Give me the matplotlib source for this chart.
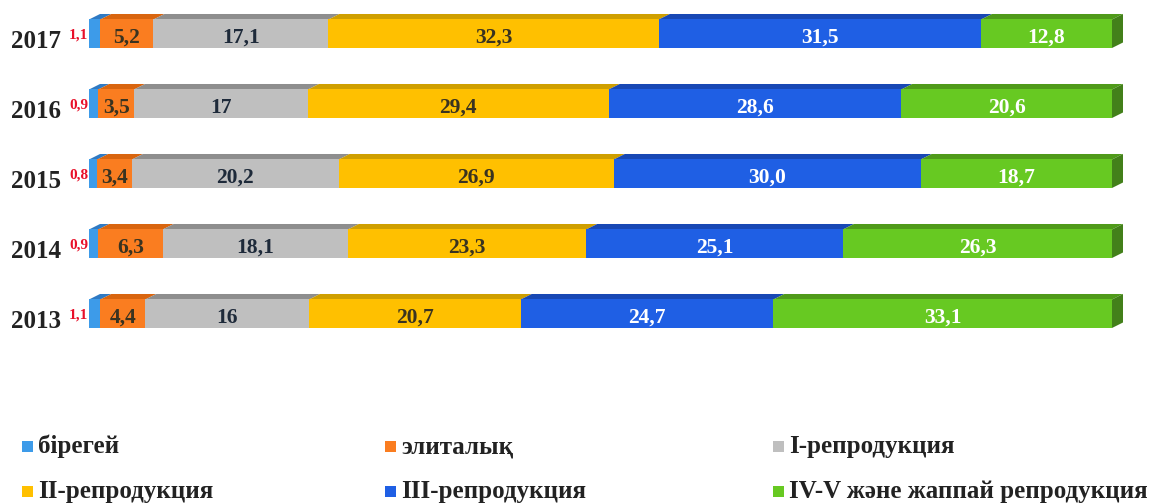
import matplotlib
matplotlib.use('Agg')
import matplotlib.pyplot as plt
from matplotlib.patches import Polygon, Rectangle
import matplotlib.transforms as mtrans

# ---- data ----
years = ['2013', '2014', '2015', '2016', '2017']
series_names = ['бірегей', 'элиталық', 'I-репродукция', 'II-репродукция',
                'III-репродукция', 'IV-V және жаппай репродукция']
unique = [1.1, 0.9, 0.8, 0.9, 1.1]
elite = [4.4, 6.3, 3.4, 3.5, 5.2]
rep1 = [16, 18.1, 20.2, 17, 17.1]
rep2 = [20.7, 23.3, 26.9, 29.4, 32.3]
rep3 = [24.7, 25.1, 30.0, 28.6, 31.5]
rep45 = [33.1, 26.3, 18.7, 20.6, 12.8]

unique_lbl = ['1,1', '0,9', '0,8', '0,9', '1,1']
elite_lbl = ['4,4', '6,3', '3,4', '3,5', '5,2']
rep1_lbl = ['16', '18,1', '20,2', '17', '17,1']
rep2_lbl = ['20,7', '23,3', '26,9', '29,4', '32,3']
rep3_lbl = ['24,7', '25,1', '30,0', '28,6', '31,5']
rep45_lbl = ['33,1', '26,3', '18,7', '20,6', '12,8']

series = [unique, elite, rep1, rep2, rep3, rep45]
labels = [unique_lbl, elite_lbl, rep1_lbl, rep2_lbl, rep3_lbl, rep45_lbl]

# ---- styles ----
front_colors = ['#3d9be9', '#fa7d20', '#bfbfbf', '#ffc000', '#1f5fe4', '#67c922']
top_colors = ['#2f7ac4', '#d9650f', '#8e8e8e', '#cf9f00', '#1848b4', '#4f9a1a']
side_color = '#43801a'
text_colors = [None, '#3a3320', '#1e2a3a', '#3a3320', 'white', 'white']
FONT = 'Liberation Serif'

W, H = 1152, 504
fig = plt.figure(figsize=(W / 100, H / 100), dpi=100)
ax = fig.add_axes([89 / W, (H - 350) / H, 1023 / W, 350 / H])
ax.set_xlim(0, 100)
ax.set_ylim(-0.518, 4.482)
ax.axis('off')

bar_h = 0.407
dx = 11 / 10.23   # 3D depth offset in x (data units)
dy = 5.5 / 70     # 3D depth offset in y (data units)

txt_in = mtrans.offset_copy(ax.transData, fig=fig, x=0, y=-9, units='dots')
txt_red = mtrans.offset_copy(ax.transData, fig=fig, x=-1, y=-5, units='dots')
txt_year = mtrans.offset_copy(ax.transData, fig=fig, x=-28, y=-14, units='dots')

for i, yr in enumerate(years):
    left = 0.0
    top = i + bar_h / 2
    for j, vals in enumerate(series):
        v = vals[i]
        ax.add_patch(Polygon([(left, top), (left + v, top), (left + v + dx, top + dy),
                              (left + dx, top + dy)], closed=True,
                             facecolor=top_colors[j], edgecolor='none', clip_on=False))
        ax.barh(i, v, left=left, height=bar_h, color=front_colors[j], edgecolor='none')
        if j == 0:
            ax.text(left, i, labels[j][i], transform=txt_red, ha='right', va='baseline',
                    color='#e8102a', fontsize=11, fontweight='bold', family=FONT)
        else:
            ax.text(left + v / 2, i, labels[j][i], transform=txt_in, ha='center',
                    va='baseline', color=text_colors[j], fontsize=15.5,
                    fontweight='bold', family=FONT)
        left += v
    ax.add_patch(Polygon([(left, i - bar_h / 2), (left, top), (left + dx, top + dy),
                          (left + dx, i - bar_h / 2 + dy)], closed=True,
                         facecolor=side_color, edgecolor='none', clip_on=False))
    ax.text(0, i, yr, transform=txt_year, ha='right', va='baseline', color='#222222',
            fontsize=18, fontweight='bold', family=FONT)

# ---- legend (manual, 2 rows x 3 columns) ----
col_x = [22, 385, 773]
row_y = [446, 491]
order = [(0, 0), (0, 1), (0, 2), (1, 0), (1, 1), (1, 2)]
for k, (r, c) in enumerate(order):
    x, y = col_x[c], row_y[r]
    fig.patches.append(Rectangle((x / W, (H - y - 5.5) / H), 11 / W, 11 / H,
                                 transform=fig.transFigure, facecolor=front_colors[k],
                                 edgecolor='none'))
    fig.text((x + 16) / W, (H - y - 7) / H, series_names[k], ha='left', va='baseline',
             fontsize=18, fontweight='bold', family=FONT, color='#222222')

fig.savefig('out.png', dpi=100, facecolor='white')
